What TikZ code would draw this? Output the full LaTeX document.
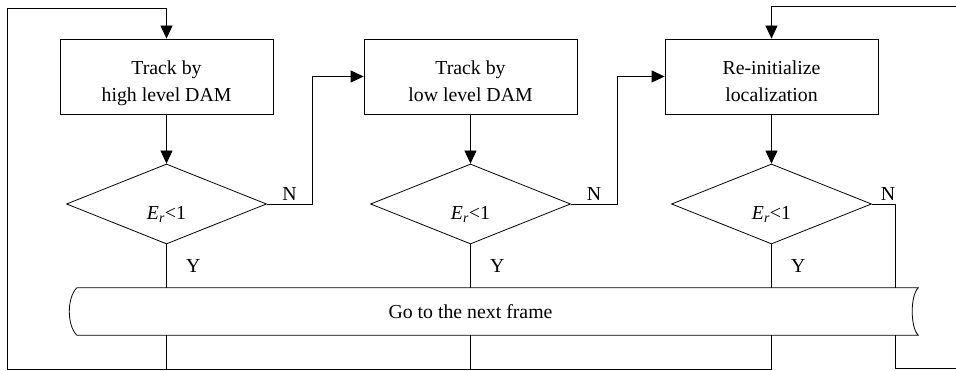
\documentclass[tikz,border=0pt]{standalone}
\usepackage{fontspec}
\setmainfont{Liberation Serif}
\usetikzlibrary{shapes.geometric,arrows.meta}

\begin{document}
\begin{tikzpicture}[x=1pt,y=1pt,font=\fontsize{19.8}{27}\selectfont]
\tikzset{boite/.style={draw, rectangle, minimum width=213pt, minimum height=75pt, align=center, text height=56pt, text depth=5pt},
losange/.style={draw, diamond, minimum width=200pt, minimum height=80pt, inner sep=0pt, text height=34pt, text depth=3pt},
fleche/.style={-{Triangle[width=12pt,length=13pt]}},
lien/.style={line width=0.8pt}}
\useasboundingbox (0,0) rectangle (956,371);
\node[boite, lien] (B1) at (166.5,294.5) {Track by\\high level DAM};
\node[boite, lien] (B2) at (470.5,294.5) {Track by\\low level DAM};
\node[boite, lien] (B3) at (771.5,294.5) {Re-initialize\\localization};
\node[losange, lien] (D1) at (166.5,167) {\textit{E}\textsubscript{\textit{r}}<1};
\node[losange, lien] (D2) at (470.5,167) {\textit{E}\textsubscript{\textit{r}}<1};
\node[losange, lien] (D3) at (771.5,167) {\textit{E}\textsubscript{\textit{r}}<1};
\node[minimum width=841pt, minimum height=47pt, inner sep=0pt] (BANDE) at (497.5,59.5) {Go to the next frame\hspace*{54pt}};
\draw[lien] (BANDE.north west) -- (BANDE.north east) .. controls +(-8,-8) and +(-8,8) .. (BANDE.south east)
  -- (BANDE.south west) .. controls +(-10,10) and +(-10,-10) .. (BANDE.north west);
\coordinate (BG) at (7,2);
\coordinate (HG) at (7,363);
\coordinate (HD) at (956,365);
\coordinate (BD) at (956,3);
\coordinate (R1) at (312,167);
\coordinate (R2) at (617,167);
\coordinate (R3) at (895,167);
\draw[lien, fleche] (B1) -- (D1);
\draw[lien, fleche] (B2) -- (D2);
\draw[lien, fleche] (B3) -- (D3);
\draw[lien, fleche] (D1.east) -- node[above] (N1) {N} (R1) |- (B2.west);
\draw[lien, fleche] (D2.east) -- node[above] (N2) {N} (R2) |- (B3.west);
\draw[lien] (D3.east) -- node[above, pos=0.7] (N3) {N} (R3) -- (R3 |- BANDE.north);
\draw[lien] (R3 |- BANDE.south) |- (BD);
\draw[lien] (D1.south) -- node[right=16pt] (Y1) {Y} (D1.south |- BANDE.north);
\draw[lien] (D2.south) -- node[right=16pt] (Y2) {Y} (D2.south |- BANDE.north);
\draw[lien] (D3.south) -- node[right=16pt] (Y3) {Y} (D3.south |- BANDE.north);
\draw[lien] (D1.south |- BANDE.south) -- (D1.south |- BG);
\draw[lien] (D2.south |- BANDE.south) -- (D2.south |- BG);
\draw[lien, fleche] (D3.south |- BANDE.south) |- (BG) -- (HG) -| (B1.north);
\draw[lien, fleche] (HD) -| (B3.north);
\end{tikzpicture}
\end{document}
